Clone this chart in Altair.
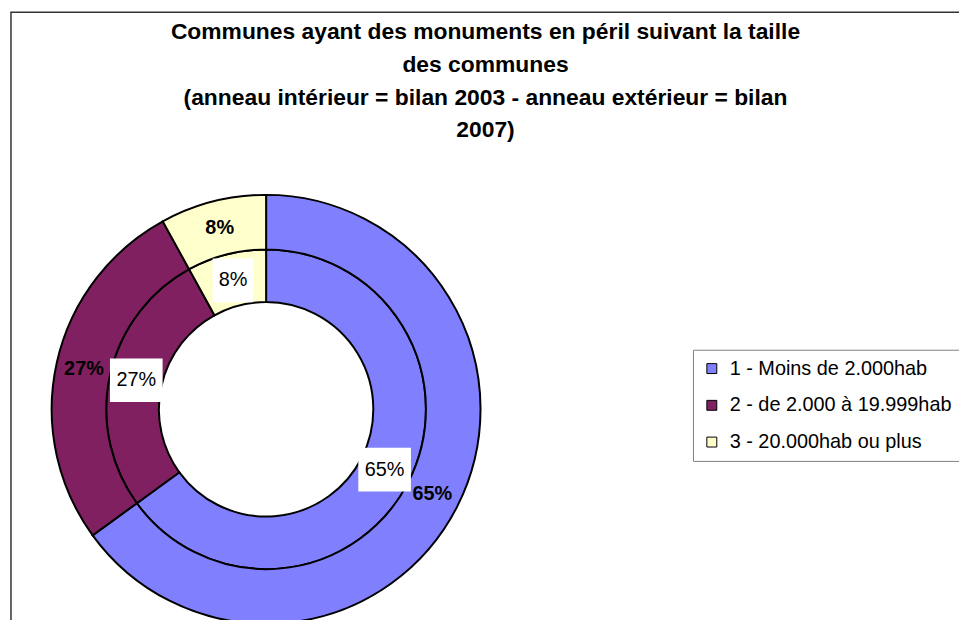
import altair as alt
import pandas as pd

# ---- data ----
categories = ["1 - Moins de 2.000hab", "2 - de 2.000 à 19.999hab", "3 - 20.000hab ou plus"]
values_2003 = [65, 27, 8]   # inner ring
values_2007 = [65, 27, 8]   # outer ring
colors = ["#8080FF", "#802060", "#FFFFCC"]
title_lines = [
    "Communes ayant des monuments en péril suivant la taille",
    "des communes",
    "(anneau intérieur = bilan 2003 - anneau extérieur = bilan",
    "2007)",
]

rows = []
for ring, vals in (("2003", values_2003), ("2007", values_2007)):
    for i, (c, v) in enumerate(zip(categories, vals)):
        rows.append({"ring": ring, "cat": c, "order": i, "value": v, "label": f"{v}%"})
df = pd.DataFrame(rows)

# ---- layout ----
W, H = 975, 630
CX, CY = 257, 400
R_HOLE, R_MID, R_OUT = 108, 161, 216
R_IN_LABEL, R_OUT_LABEL = 134, 188
FONT = "Arial"

theta = alt.Theta("value:Q", stack=True)
order = alt.Order("order:Q")
color = alt.Color(
    "cat:N",
    scale=alt.Scale(domain=categories, range=colors),
    legend=alt.Legend(
        title=None, orient="none", legendX=687, legendY=340,
        padding=9, strokeColor="#808080", fillColor="white",
        labelFont=FONT, labelFontSize=20, labelColor="black", labelLimit=400,
        symbolType="square", symbolSize=100, symbolStrokeColor="black",
        symbolStrokeWidth=1, labelOffset=8, rowPadding=17,
    ),
)

base = alt.Chart(df)
f2003 = "datum.ring == '2003'"
f2007 = "datum.ring == '2007'"

inner = base.transform_filter(f2003).mark_arc(
    radius=R_MID, radius2=R_HOLE, stroke="black", strokeWidth=2
).encode(theta=theta, order=order, color=color, x=alt.value(CX), y=alt.value(CY))

outer = base.transform_filter(f2007).mark_arc(
    radius=R_OUT, radius2=R_MID, stroke="black", strokeWidth=2
).encode(theta=theta, order=order, color=color, x=alt.value(CX), y=alt.value(CY))

boxes = (
    base.transform_filter(f2003)
    .transform_window(cum="sum(value)", sort=[{"field": "order"}], frame=[None, 0])
    .transform_joinaggregate(total="sum(value)")
    .transform_calculate(mid="(datum.cum - datum.value / 2) / datum.total * 2 * PI")
    .transform_calculate(w="12 * length(datum.label) + 17")
    .transform_calculate(bx=f"{R_IN_LABEL} * sin(datum.mid)")
    .transform_calculate(by=f"{R_IN_LABEL} * cos(datum.mid)")
    .transform_calculate(x0="datum.bx - datum.w / 2", x1="datum.bx + datum.w / 2")
    .transform_calculate(y0="datum.by - 22", y1="datum.by + 22")
    .mark_rect(color="white")
    .encode(
        x=alt.X("x0:Q", scale=alt.Scale(domain=[-CX, W - CX], nice=False, zero=False), axis=None),
        x2="x1:Q",
        y=alt.Y("y0:Q", scale=alt.Scale(domain=[CY - H, CY], nice=False, zero=False), axis=None),
        y2="y1:Q",
    )
)

inner_text = base.transform_filter(f2003).mark_text(
    radius=R_IN_LABEL, fontSize=20, font=FONT, color="black"
).encode(theta=theta, order=order, text="label:N", x=alt.value(CX), y=alt.value(CY))

outer_text = base.transform_filter(f2007).mark_text(
    radius=R_OUT_LABEL, fontSize=20, font=FONT, fontWeight="bold", color="black"
).encode(theta=theta, order=order, text="label:N", x=alt.value(CX), y=alt.value(CY))

title = alt.Chart(pd.DataFrame({"t": ["\n".join(title_lines)]})).mark_text(
    lineBreak="\n", fontSize=23, fontWeight="bold", lineHeight=33,
    align="center", baseline="alphabetic", font=FONT, color="black",
).encode(text="t:N", x=alt.value(478), y=alt.value(27))

chart = alt.layer(inner, outer, boxes, inner_text, outer_text, title).properties(
    width=W, height=H,
    padding={"left": 3, "top": 2, "right": -20, "bottom": -20},
    autosize=alt.AutoSizeParams(type="none"),
).configure_view(stroke="#333333", strokeWidth=1.5)

chart.save("out.html", embed_options={"renderer": "svg", "actions": False})
